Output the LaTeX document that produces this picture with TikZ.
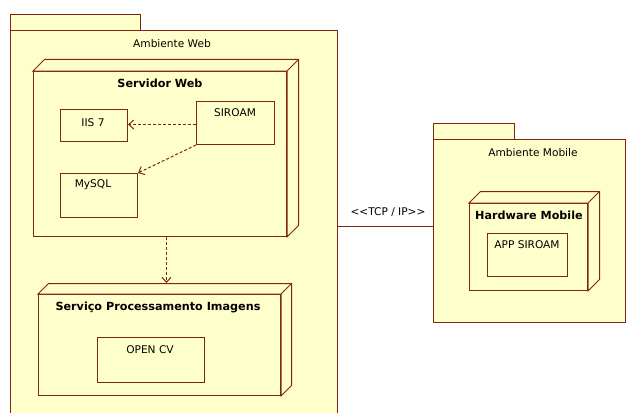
\documentclass[tikz,border=0pt]{standalone}
\usepackage{fontspec}
\setmainfont{DejaVu Sans}
\usetikzlibrary{arrows.meta,calc}
\definecolor{umlfill}{RGB}{255,255,204}
\definecolor{umlline}{RGB}{128,36,20}

% top and right faces of a 3D node box
\newcommand\nodefaces[2]{%
  \draw[umlbox] (#1.north west) -- ++(#2,-#2) -- ($(#1.north east)+(#2,-#2)$)
    -- ($(#1.south east)+(#2,-#2)$) -- (#1.south east) -- (#1.north east) -- cycle;
  \draw[umlbox] (#1.north east) -- ++(#2,-#2);
}

\begin{document}
\begin{tikzpicture}[x=1pt,y=-1pt,
  umlbox/.style={draw=umlline, fill=umlfill, line width=1pt},
  box/.style={umlbox, inner sep=0pt, anchor=north west},
  txt/.style={font=\fontsize{10.6}{12}\selectfont, inner sep=0pt},
  ttl/.style={font=\fontsize{11.2}{13}\selectfont\bfseries, inner sep=0pt},
  dep/.style={draw=umlline, line width=1pt, dash pattern=on 3pt off 2pt,
    -{Straight Barb[length=5pt,width=9pt]}},
  link/.style={draw=umlline, line width=1pt},
]
\clip (0,0) rectangle (626,412);
\fill[white] (0,0) rectangle (626,412);

% package: Ambiente Web
\node[box, minimum width=130, minimum height=16] (webtab) at (10,14) {};
\node[box, minimum width=327, minimum height=400] (web) at (10,30) {};
\node[txt] (webtxt) at (172,44) {Ambiente Web};

% node: Servidor Web
\node[box, minimum width=253, minimum height=165] (srv) at (33,71) {};
\nodefaces{srv}{11.5}
\node[ttl] (srvtxt) at (160,83) {Servidor Web};

\node[box, minimum width=67, minimum height=32] (iis) at (60,109) {};
\node[txt] (iistxt) at (93,123) {IIS 7};
\node[box, minimum width=78, minimum height=43] (siroam) at (196,101) {};
\node[txt] (siroamtxt) at (235,113) {SIROAM};
\node[box, minimum width=77, minimum height=44] (mysql) at (60,173) {};
\node[txt] (mysqltxt) at (93,185) {MySQL};

\coordinate (depA) at ($(siroam.west)+(0,1.5)$);
\draw[dep] (depA) -- (depA -| iis.east);
\draw[dep] (siroam.south west) -- (mysql.north east);

% node: Servico Processamento Imagens
\node[box, minimum width=242, minimum height=101] (svc) at (38,294) {};
\nodefaces{svc}{10.5}
\node[ttl] (svctxt) at (158,307) {Serviço Processamento Imagens};
\node[box, minimum width=107, minimum height=45] (ocv) at (97,337) {};
\node[txt] (ocvtxt) at (150,350) {OPEN CV};

\coordinate (srvbot) at ($(srv.south)+(6.5,0)$);
\coordinate (svctop) at ($(svc.north)+(0,-11)$);
\draw[dep] (srvbot) -- (srvbot |- svctop);

% package: Ambiente Mobile
\node[box, minimum width=81, minimum height=16] (mobtab) at (433,123) {};
\node[box, minimum width=191.5, minimum height=183] (mob) at (433,139) {};
\node[txt] (mobtxt) at (533,153) {Ambiente Mobile};

\node[box, minimum width=118, minimum height=87] (hw) at (469,203) {};
\nodefaces{hw}{11.5}
\node[ttl] (hwtxt) at (529,215) {Hardware Mobile};
\node[box, minimum width=80, minimum height=43] (app) at (487,233) {};
\node[txt] (apptxt) at (527,245) {APP SIROAM};

% communication path
\coordinate (tcpL) at ($(web.east)+(0,-4)$);
\draw[link] (tcpL) -- (tcpL -| mob.west);
\node[txt] (tcptxt) at (388,212) {{<}{<}TCP / IP{>}{>}};
\end{tikzpicture}
\end{document}
